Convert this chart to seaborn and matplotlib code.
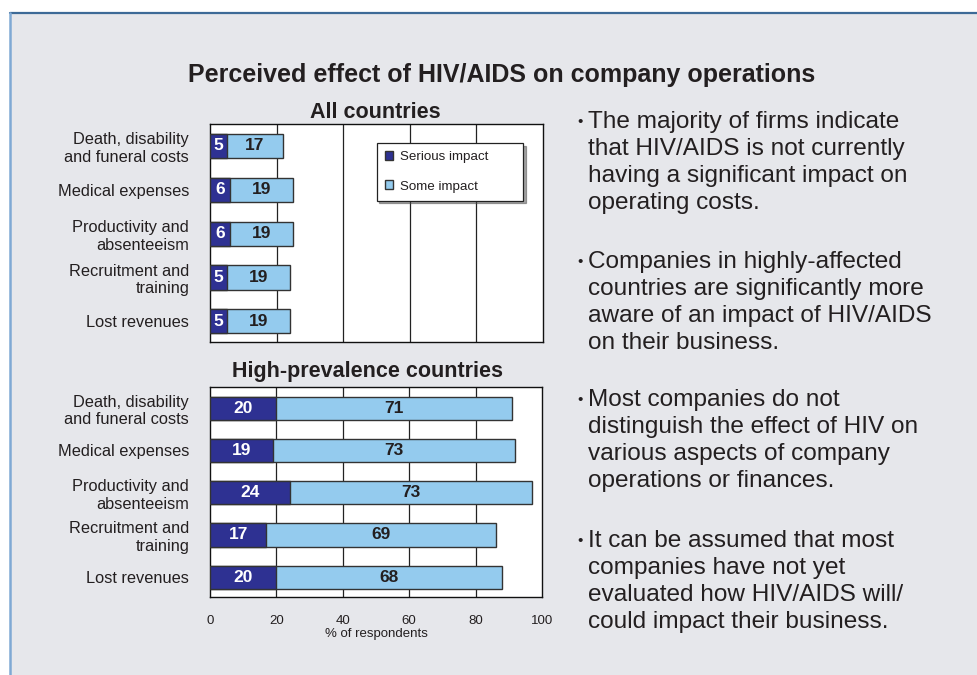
import numpy as np
import pandas as pd
import matplotlib
matplotlib.use('Agg')
import matplotlib.pyplot as plt
from matplotlib.patches import Rectangle
from matplotlib.lines import Line2D
import seaborn as sns

# Data
categories = ['Death, disability\nand funeral costs', 'Medical expenses',
              'Productivity and\nabsenteeism', 'Recruitment and\ntraining',
              'Lost revenues']
all_serious = [5, 6, 6, 5, 5]
all_some = [17, 19, 19, 19, 19]
high_serious = [20, 19, 24, 17, 20]
high_some = [71, 73, 73, 69, 68]
x_ticks = [0, 20, 40, 60, 80, 100]

bullets = [
    ['The majority of firms indicate', 'that HIV/AIDS is not currently',
     'having a significant impact on', 'operating costs.'],
    ['Companies in highly-affected', 'countries are significantly more',
     'aware of an impact of HIV/AIDS', 'on their business.'],
    ['Most companies do not', 'distinguish the effect of HIV on',
     'various aspects of company', 'operations or finances.'],
    ['It can be assumed that most', 'companies have not yet',
     'evaluated how HIV/AIDS will/', 'could impact their business.'],
]

DARK = '#2e3192'
LIGHT = '#94cbee'
TEXT = '#231f20'
PANEL = '#e6e7eb'

sns.set_theme(style='white')
plt.rcParams['font.family'] = ['Liberation Sans', 'DejaVu Sans']

W, H = 978, 675
fig = plt.figure(figsize=(W / 100, H / 100), dpi=100)
fig.patch.set_facecolor('white')


def px(x, y):
    # pixel position (from top-left) -> figure fraction
    return x / W, 1 - y / H


# grey panel with blue border (runs off the right/bottom edges)
x0, y0 = px(10, 13)
fig.patches.append(Rectangle((x0, 0), 1.0, y0, transform=fig.transFigure,
                             facecolor=PANEL, edgecolor='none', zorder=-2))
fig.lines.append(Line2D([x0, 1], [y0, y0], transform=fig.transFigure,
                        color='#3d6a97', lw=1.6, zorder=-1))
fig.lines.append(Line2D([x0, x0], [0, y0], transform=fig.transFigure,
                        color='#7fa9d4', lw=1.8, zorder=-1))


def draw_panel(ax, serious, some, show_x):
    total = [a + b for a, b in zip(serious, some)]
    df = pd.DataFrame({'cat': categories, 'serious': serious,
                       'some': some, 'total': total})
    ax.set_facecolor('white')
    for xv in x_ticks[1:-1]:
        ax.axvline(xv, color='#222222', lw=0.9, zorder=0)
    sns.barplot(data=df, x='total', y='cat', orient='h', color=LIGHT,
                width=0.55, edgecolor='#333333', linewidth=1.0,
                saturation=1, ax=ax, zorder=2, label='Some impact')
    sns.barplot(data=df, x='serious', y='cat', orient='h', color=DARK,
                width=0.55, edgecolor='#333333', linewidth=1.0,
                saturation=1, ax=ax, zorder=3, label='Serious impact')
    if ax.get_legend() is not None:
        ax.get_legend().remove()
    for i, (s, o) in enumerate(zip(serious, some)):
        ax.text(s / 2, i, str(s), ha='center', va='center', color='white',
                fontsize=12.5, fontweight='bold', zorder=4)
        ax.text(s + o / 2, i, str(o), ha='center', va='center', color=TEXT,
                fontsize=12.5, fontweight='bold', zorder=4)
    ax.set_xlim(0, 100)
    ax.set_ylim(4.47, -0.5)
    ax.set_xticks(x_ticks)
    ax.set_ylabel('')
    ax.tick_params(axis='y', length=0, pad=15, labelsize=11.8, labelcolor=TEXT)
    ax.tick_params(axis='x', length=0, pad=13, labelsize=9.5, labelcolor=TEXT)
    for sp in ax.spines.values():
        sp.set_color('#111111')
        sp.set_linewidth(1.0)
        sp.set_visible(True)
    if show_x:
        ax.set_xlabel('% of respondents', fontsize=9.5, color=TEXT, labelpad=1)
    else:
        ax.set_xlabel('')
        ax.set_xticklabels([])


l, t = px(210, 124)
_, b = px(0, 342)
ax1 = fig.add_axes([l, b, 333 / W, t - b])
draw_panel(ax1, all_serious, all_some, False)

l, t = px(210, 387)
_, b = px(0, 597)
ax2 = fig.add_axes([l, b, 332 / W, t - b])
draw_panel(ax2, high_serious, high_some, True)

# legend on the top panel
handles, labels = ax1.get_legend_handles_labels()
order = [labels.index('Serious impact'), labels.index('Some impact')]
leg = ax1.legend([handles[i] for i in order], [labels[i] for i in order],
                 loc='upper left', bbox_to_anchor=(0.50, 0.651, 0.44, 0.262),
                 mode='expand', fontsize=9.6, frameon=True, fancybox=False,
                 shadow=True, framealpha=1, edgecolor='#222222',
                 handlelength=0.65, handleheight=0.65, handletextpad=0.5,
                 borderpad=0.6, labelspacing=1.3, borderaxespad=0)
leg.get_frame().set_linewidth(0.9)
for txt in leg.get_texts():
    txt.set_color(TEXT)

# titles
fig.text(*px(502, 75), 'Perceived effect of HIV/AIDS on company operations',
         ha='center', va='center', fontsize=18, fontweight='bold', color=TEXT)
fig.text(*px(375, 113), 'All countries', ha='center', va='center',
         fontsize=15.5, fontweight='bold', color=TEXT)
fig.text(*px(368, 372), 'High-prevalence countries', ha='center', va='center',
         fontsize=15.5, fontweight='bold', color=TEXT)

# bullet text on the right
para_start = [128, 268, 406, 547]
pitch = 27
for y_start, lines in zip(para_start, bullets):
    fig.text(*px(577, y_start - 6), '\u2022', ha='left', va='center',
             fontsize=11, color=TEXT)
    for k, line in enumerate(lines):
        fig.text(*px(588, y_start + k * pitch), line, ha='left',
                 va='baseline', fontsize=17.6, color=TEXT)

fig.savefig('out.png', dpi=100, facecolor=fig.get_facecolor())
